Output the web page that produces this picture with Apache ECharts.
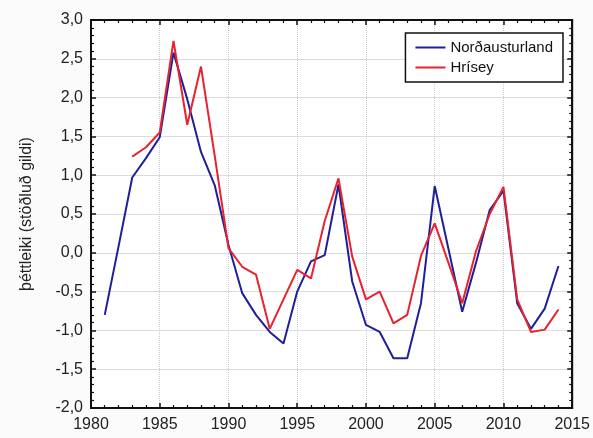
<!DOCTYPE html>
<html>
<head>
<meta charset="utf-8">
<script src="https://cdn.jsdelivr.net/npm/echarts@6/dist/echarts.min.js"></script>
<style>
html,body{margin:0;padding:0;background:#fbfbfb;}
#c{width:593px;height:438px;}
</style>
</head>
<body>
<div id="c"></div>
<script>
var yearsBlue = [1981,1982,1983,1984,1985,1986,1987,1988,1989,1990,1991,1992,1993,1994,1995,1996,1997,1998,1999,2000,2001,2002,2003,2004,2005,2006,2007,2008,2009,2010,2011,2012,2013,2014];
var blueValues = [-0.8,0.08,0.97,1.22,1.49,2.58,1.98,1.3,0.87,0.1,-0.52,-0.8,-1.02,-1.17,-0.5,-0.11,-0.03,0.88,-0.37,-0.93,-1.02,-1.36,-1.36,-0.65,0.86,0.05,-0.76,-0.13,0.55,0.8,-0.65,-0.98,-0.72,-0.17];
var yearsRed = [1983,1984,1985,1986,1987,1988,1989,1990,1991,1992,1993,1994,1995,1996,1997,1998,1999,2000,2001,2002,2003,2004,2005,2006,2007,2008,2009,2010,2011,2012,2013,2014];
var redValues = [1.24,1.36,1.55,2.73,1.65,2.4,1.25,0.06,-0.18,-0.28,-0.98,-0.6,-0.22,-0.33,0.41,0.96,-0.05,-0.6,-0.5,-0.91,-0.8,-0.04,0.38,-0.13,-0.65,0.02,0.5,0.85,-0.6,-1.02,-0.99,-0.73];
var seriesNames = ['Norðausturland','Hrísey'];
var yAxisName = 'þéttleiki (stöðluð gildi)';

function pairs(xs, ys){ return xs.map(function(x,i){return [x, ys[i]];}); }
function fmtComma(v){ return v.toFixed(1).replace('.', ','); }
function fmtYear(v){ return String(Math.round(v)); }

var chart = echarts.init(document.getElementById('c'));
var font = 'Liberation Sans, Arial, sans-serif';
var tickStyle = {show:true, inside:true, length:5, lineStyle:{color:'#111', width:1.5}};
var minorStyle = {show:true, splitNumber:5, length:3, lineStyle:{color:'#111', width:1.2}};
var axisLineStyle = {show:true, onZero:false, lineStyle:{color:'#111', width:2}};
chart.setOption({
  backgroundColor:'#fbfbfb',
  animation:false,
  grid:{left:91, top:20, right:20, bottom:30, show:true, backgroundColor:'#ffffff', borderColor:'#111', borderWidth:2},
  legend:{
    data:seriesNames, orient:'vertical', right:30, top:33,
    backgroundColor:'#fff', borderColor:'#111', borderWidth:1.5,
    padding:[7,10,7,10], itemGap:5, itemWidth:30, itemHeight:2,
    textStyle:{fontFamily:font, fontSize:15, color:'#111'},
    icon:'rect'
  },
  xAxis:[{
    type:'value', min:1980, max:2015, interval:5,
    axisLine:axisLineStyle,
    axisTick:tickStyle, minorTick:minorStyle,
    axisLabel:{fontFamily:font, fontSize:16, color:'#222', margin:9, formatter:fmtYear},
    splitLine:{show:true, lineStyle:{color:'#c8cad6', type:'dotted', width:1}}
  },{
    type:'value', min:1980, max:2015, interval:5, position:'top',
    axisLine:axisLineStyle,
    axisTick:tickStyle, minorTick:minorStyle, axisLabel:{show:false}, splitLine:{show:false}
  }],
  yAxis:[{
    type:'value', min:-2, max:3, interval:0.5,
    name:yAxisName, nameLocation:'middle', nameGap:56,
    nameTextStyle:{fontFamily:font, fontSize:16, color:'#222'},
    axisLine:axisLineStyle,
    axisTick:tickStyle, minorTick:minorStyle,
    axisLabel:{fontFamily:font, fontSize:16, color:'#222', margin:8, formatter:fmtComma},
    splitLine:{show:true, lineStyle:{color:'#dcdcdc', width:1}}
  },{
    type:'value', min:-2, max:3, interval:0.5, position:'right',
    axisLine:axisLineStyle,
    axisTick:tickStyle, minorTick:minorStyle, axisLabel:{show:false}, splitLine:{show:false}
  }],
  series:[{
    name:seriesNames[0], type:'line', data:pairs(yearsBlue, blueValues),
    showSymbol:false, symbol:'none', lineStyle:{color:'#1f1f9a', width:2}, itemStyle:{color:'#1f1f9a'}
  },{
    name:seriesNames[1], type:'line', data:pairs(yearsRed, redValues),
    showSymbol:false, symbol:'none', lineStyle:{color:'#e8222e', width:2}, itemStyle:{color:'#e8222e'}
  }]
});
</script>
</body>
</html>
